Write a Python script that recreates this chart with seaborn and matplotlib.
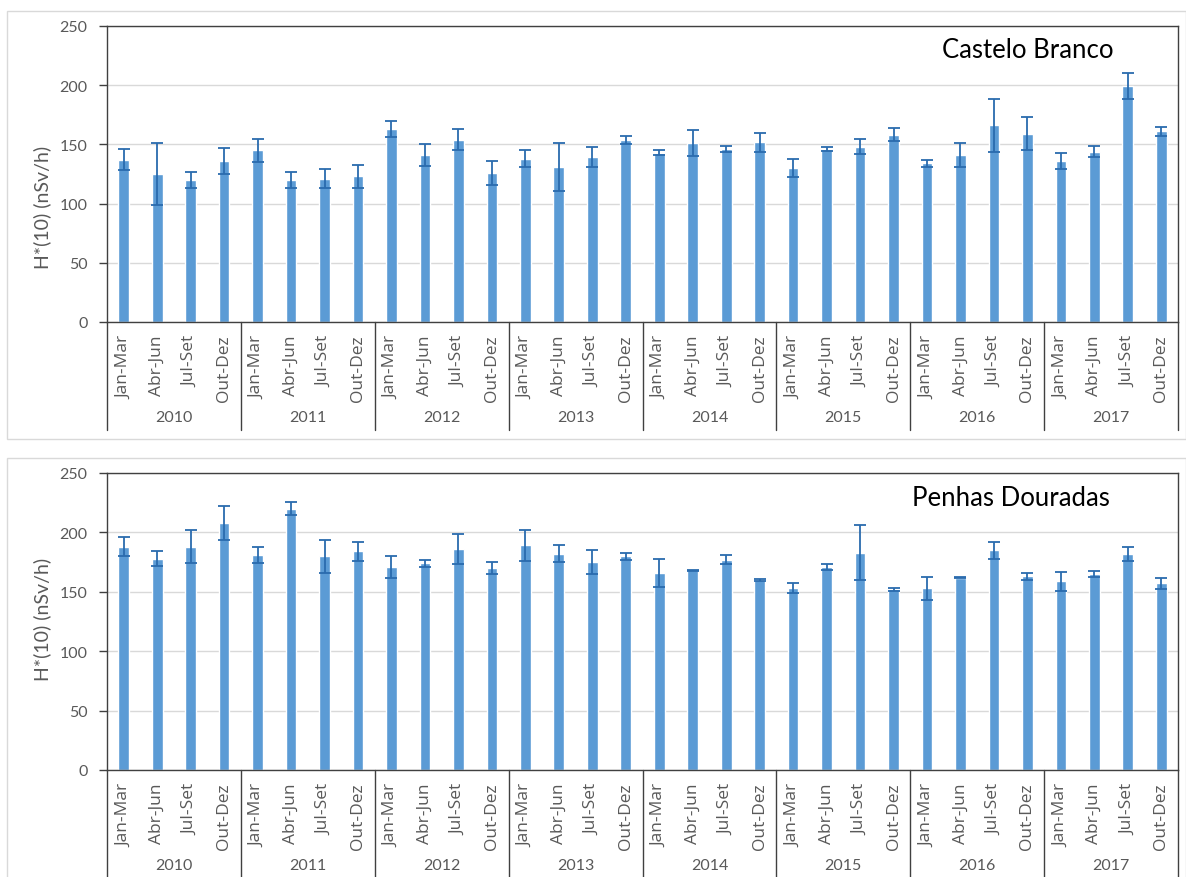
import numpy as np
import pandas as pd
import matplotlib
matplotlib.use("Agg")
import matplotlib.pyplot as plt
import seaborn as sns
from matplotlib.patches import Rectangle
from matplotlib.transforms import blended_transform_factory

# ---------------- data ----------------
years = ["2010", "2011", "2012", "2013", "2014", "2015", "2016", "2017"]
quarters = ["Jan-Mar", "Abr-Jun", "Jul-Set", "Out-Dez"]

castelo_values = [137, 125, 120, 136,
                  145, 120, 121, 123,
                  163, 141, 154, 126,
                  138, 131, 139, 154,
                  143, 151, 146, 152,
                  130, 146, 148, 158,
                  134, 141, 166, 159,
                  136, 144, 199, 161]
castelo_errors = [9, 26, 6.5, 11,
                  9.5, 7, 8, 10,
                  7, 9.5, 9, 10,
                  7.5, 20, 8.5, 3.5,
                  2, 11, 2.5, 8,
                  7.5, 1.5, 6.5, 5.5,
                  3, 10, 22, 14,
                  6.5, 4.5, 11, 3.5]

penhas_values = [188, 178, 188, 208,
                 181, 220, 180, 184,
                 171, 174, 186, 170,
                 189, 182, 175, 180,
                 166, 168, 177, 160,
                 153, 171, 183, 152,
                 153, 162, 185, 163,
                 159, 165, 182, 157]
penhas_errors = [8, 6, 14, 14,
                 7, 5.5, 14, 8,
                 9, 3, 13, 5,
                 13, 7, 10, 3,
                 12, 0.6, 4, 0.8,
                 4, 2.5, 23, 1.5,
                 9.5, 0.4, 7, 3,
                 8, 2.5, 6, 5]

y_ticks = [0, 50, 100, 150, 200, 250]
y_label = "H*(10) (nSv/h)"

# ---------------- style ----------------
sns.set_theme(style="white")
plt.rcParams["font.family"] = ["Lato", "DejaVu Sans"]

BAR = "#5B9BD5"
ERR = "#2A6BAE"
GRAY_TXT = "#595959"
DARK = "#404040"
GRID = "#D9D9D9"

W, H = 1186, 878
fig = plt.figure(figsize=(W / 100, H / 100), dpi=100)


def px_axes(l, t, r, b):
    return fig.add_axes([l / W, 1 - b / H, (r - l) / W, (b - t) / H])


def px_rect(l, t, r, b):
    fig.patches.append(Rectangle((l / W, 1 - b / H), (r - l) / W, (b - t) / H,
                                 transform=fig.transFigure, fill=False,
                                 edgecolor=GRID, lw=1.0, zorder=0))


panels = [
    dict(title="Castelo Branco", values=castelo_values, errors=castelo_errors,
         box=(107, 27, 1178, 323), frame=(7, 12, 1186, 440),
         title_xy=(0.86, 0.922), ylab_y=0.39),
    dict(title="Penhas Douradas", values=penhas_values, errors=penhas_errors,
         box=(107, 474, 1178, 771), frame=(7, 459, 1186, 880),
         title_xy=(0.844, 0.919), ylab_y=0.51),
]

keys = [f"{y} {q}" for y in years for q in quarters]

for p in panels:
    px_rect(*p["frame"])
    ax = px_axes(*p["box"])
    df = pd.DataFrame({"key": keys, "value": p["values"]})
    sns.barplot(data=df, x="key", y="value", order=keys, color=BAR,
                saturation=1, width=0.32, errorbar=None, ax=ax, zorder=2)
    centers = [b.get_x() + b.get_width() / 2 for b in ax.patches]
    ax.errorbar(centers, p["values"], yerr=p["errors"], fmt="none",
                ecolor=ERR, elinewidth=1.3, capsize=4.5, capthick=1.3, zorder=3)

    ax.set_xlim(-0.5, len(keys) - 0.5)
    ax.set_ylim(y_ticks[0], y_ticks[-1])
    ax.set_yticks(y_ticks)
    ax.yaxis.grid(True, color=GRID, lw=1)
    ax.set_axisbelow(True)
    for s in ax.spines.values():
        s.set_visible(True)
        s.set_color(DARK)
        s.set_linewidth(1.0)

    ax.set_xticks(range(len(keys)))
    ax.set_xticklabels(quarters * len(years))
    for lbl in ax.get_xticklabels():
        lbl.set_rotation(90)
        lbl.set_fontsize(12.5)
        lbl.set_color(GRAY_TXT)
        lbl.set_fontfamily(["Open Sans", "DejaVu Sans"])
    ax.tick_params(axis="x", length=0, pad=9)
    ax.tick_params(axis="y", length=6, width=1, color=DARK, direction="out",
                   labelsize=11.5, labelcolor=GRAY_TXT, pad=8, left=True)
    ax.set_xlabel("")
    ax.set_ylabel(y_label, fontsize=14, color=GRAY_TXT)
    ax.yaxis.set_label_coords(-0.052, p["ylab_y"])

    tr = blended_transform_factory(ax.transData, ax.transAxes)
    for i, yr in enumerate(years):
        ax.text(4 * i + 1.5, -0.32, yr, transform=tr, ha="center", va="center",
                fontsize=11.5, color=GRAY_TXT)
    for bnd in np.arange(-0.5, len(keys), 4):
        ax.plot([bnd, bnd], [0, -0.365], transform=tr, clip_on=False,
                color=DARK, lw=1.0)

    ax.text(p["title_xy"][0], p["title_xy"][1], p["title"], transform=ax.transAxes,
            ha="center", va="center", fontsize=18.5, color="black")

fig.savefig("out.png", dpi=100, facecolor="white")
